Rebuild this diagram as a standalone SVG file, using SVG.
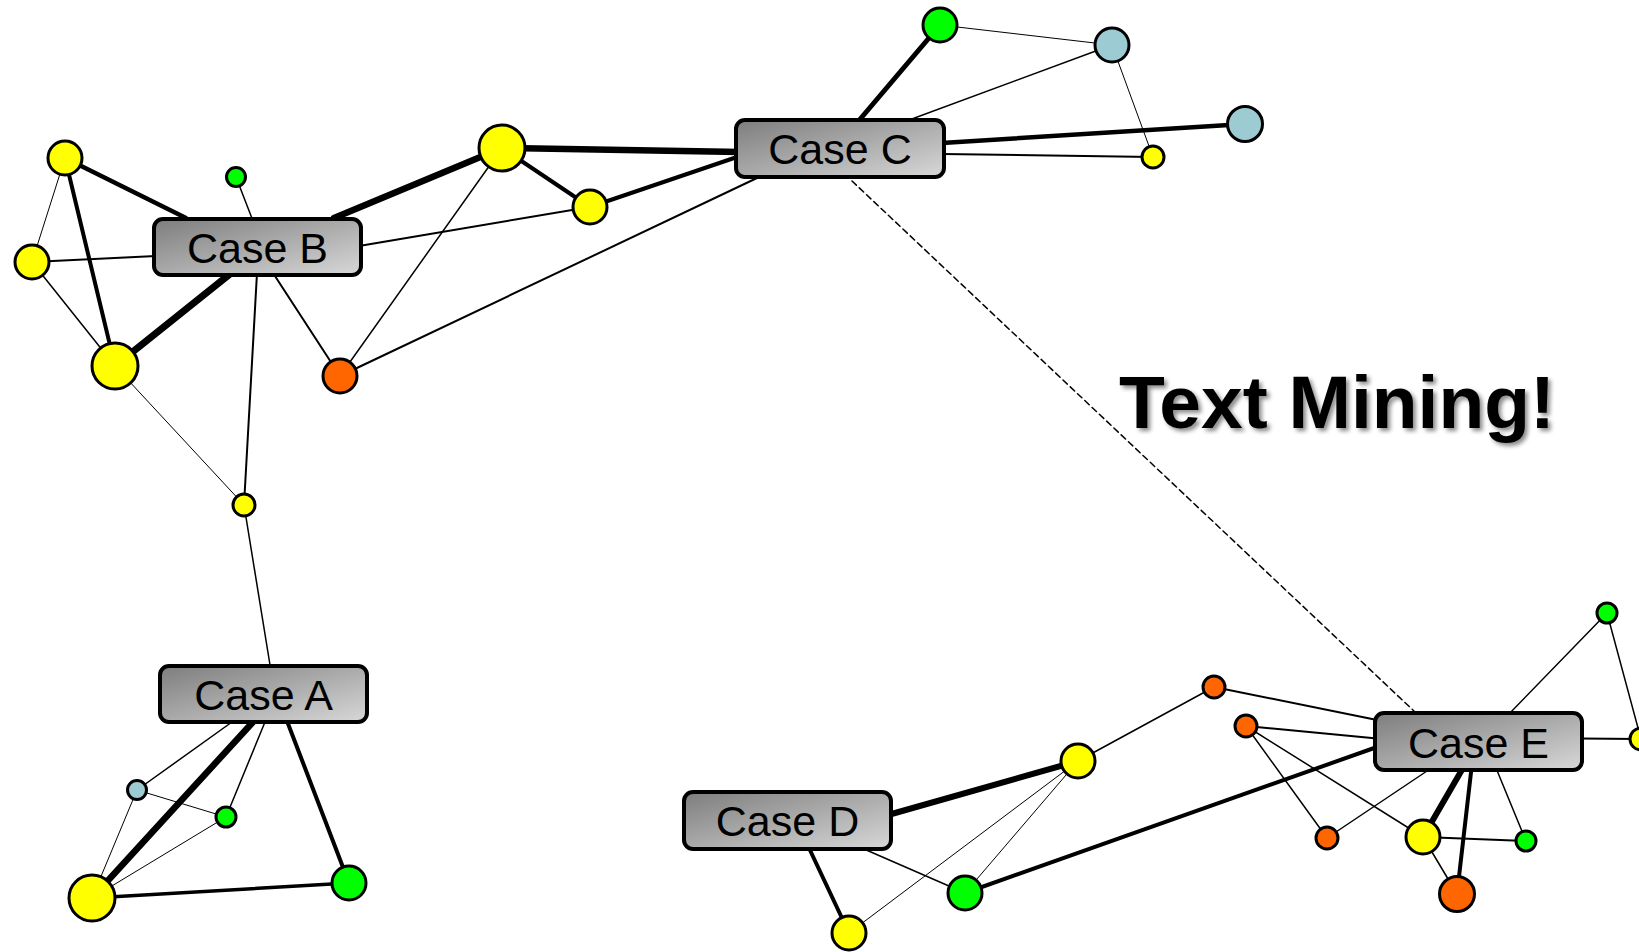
<svg xmlns="http://www.w3.org/2000/svg" width="1639" height="952" viewBox="0 0 1639 952">
<style>
.e{stroke:#000;fill:none;stroke-linecap:round}
.n{stroke:#000;stroke-width:3}
.y{fill:#ffff00}.g{fill:#00ff00}.b{fill:#9ccbd3}.o{fill:#ff6600}
.box{fill:url(#bg);stroke:#000;stroke-width:4}
.lbl{font-family:"Liberation Sans",Arial,sans-serif;font-size:43px;fill:#000;text-anchor:middle}
.title{font-family:"Liberation Sans",Arial,sans-serif;font-size:75px;font-weight:bold;fill:#000}
</style>
<defs>
<linearGradient id="bg" x1="0" y1="0" x2="1" y2="1">
<stop offset="0" stop-color="#7d7d7d"/>
<stop offset="1" stop-color="#d8d8d8"/>
</linearGradient>
<filter id="sh" x="-10%" y="-20%" width="120%" height="150%">
<feDropShadow dx="3" dy="3" stdDeviation="2" flood-color="#000" flood-opacity="0.45"/>
</filter>
</defs>
<rect width="1639" height="952" fill="#fff"/>
<g id="connectors">
<line class="e" x1="65" y1="158" x2="186" y2="218" stroke-width="4.5"/>
<line class="e" x1="236" y1="177" x2="253" y2="221" stroke-width="1.5"/>
<line class="e" x1="32" y1="262" x2="156" y2="256" stroke-width="2"/>
<line class="e" x1="115" y1="366" x2="230" y2="274" stroke-width="7"/>
<line class="e" x1="257" y1="273" x2="244" y2="505" stroke-width="2"/>
<line class="e" x1="340" y1="376" x2="273" y2="273" stroke-width="2"/>
<line class="e" x1="502" y1="148" x2="334" y2="218" stroke-width="6.5"/>
<line class="e" x1="590" y1="207" x2="359" y2="246" stroke-width="2"/>
<line class="e" x1="65" y1="158" x2="32" y2="262" stroke-width="1"/>
<line class="e" x1="65" y1="158" x2="115" y2="366" stroke-width="4"/>
<line class="e" x1="32" y1="262" x2="115" y2="366" stroke-width="1.5"/>
<line class="e" x1="115" y1="366" x2="244" y2="505" stroke-width="1"/>
<line class="e" x1="244" y1="505" x2="270.5" y2="668" stroke-width="1.5"/>
<line class="e" x1="340" y1="376" x2="502" y2="148" stroke-width="1.5"/>
<line class="e" x1="340" y1="376" x2="757" y2="178" stroke-width="2"/>
<line class="e" x1="502" y1="148" x2="740" y2="152" stroke-width="6.5"/>
<line class="e" x1="502" y1="148" x2="590" y2="207" stroke-width="4"/>
<line class="e" x1="590" y1="207" x2="740" y2="156" stroke-width="4"/>
<line class="e" x1="940" y1="25" x2="856" y2="124" stroke-width="5"/>
<line class="e" x1="1112" y1="45" x2="901" y2="123" stroke-width="1.5"/>
<line class="e" x1="940" y1="25" x2="1112" y2="45" stroke-width="1"/>
<line class="e" x1="1112" y1="45" x2="1153" y2="157" stroke-width="1"/>
<line class="e" x1="942" y1="143" x2="1245" y2="124" stroke-width="4.5"/>
<line class="e" x1="942" y1="154" x2="1153" y2="157" stroke-width="2"/>
<line class="e" x1="852" y1="181" x2="1415" y2="712" stroke-width="1.5" stroke-dasharray="6,4" stroke-linecap="butt"/>
<line class="e" x1="137" y1="790" x2="232" y2="722" stroke-width="1.5"/>
<line class="e" x1="92" y1="898" x2="253" y2="722" stroke-width="6.5"/>
<line class="e" x1="226" y1="817" x2="265" y2="722" stroke-width="1.5"/>
<line class="e" x1="349" y1="883" x2="287" y2="721" stroke-width="4"/>
<line class="e" x1="137" y1="790" x2="226" y2="817" stroke-width="1"/>
<line class="e" x1="137" y1="790" x2="92" y2="898" stroke-width="1"/>
<line class="e" x1="226" y1="817" x2="92" y2="898" stroke-width="1"/>
<line class="e" x1="92" y1="898" x2="349" y2="883" stroke-width="3.5"/>
<line class="e" x1="888" y1="815" x2="1078" y2="761" stroke-width="6"/>
<line class="e" x1="809" y1="848" x2="849" y2="933" stroke-width="4"/>
<line class="e" x1="864" y1="849" x2="965" y2="893" stroke-width="1.5"/>
<line class="e" x1="1078" y1="761" x2="965" y2="893" stroke-width="1"/>
<line class="e" x1="1078" y1="761" x2="849" y2="933" stroke-width="1"/>
<line class="e" x1="1078" y1="761" x2="1214" y2="687" stroke-width="1.5"/>
<line class="e" x1="965" y1="893" x2="1377" y2="747" stroke-width="4"/>
<line class="e" x1="1214" y1="687" x2="1377" y2="720" stroke-width="2"/>
<line class="e" x1="1246" y1="726" x2="1377" y2="738.5" stroke-width="2"/>
<line class="e" x1="1246" y1="726" x2="1327" y2="838" stroke-width="1.5"/>
<line class="e" x1="1246" y1="726" x2="1423" y2="837" stroke-width="1.5"/>
<line class="e" x1="1327" y1="838" x2="1430" y2="769" stroke-width="1.5"/>
<line class="e" x1="1423" y1="837" x2="1463" y2="768" stroke-width="6"/>
<line class="e" x1="1457" y1="894" x2="1471.5" y2="768" stroke-width="4"/>
<line class="e" x1="1526" y1="841" x2="1496" y2="768" stroke-width="1.5"/>
<line class="e" x1="1423" y1="837" x2="1526" y2="841" stroke-width="2"/>
<line class="e" x1="1423" y1="837" x2="1457" y2="894" stroke-width="1.5"/>
<line class="e" x1="1607" y1="613" x2="1508" y2="715" stroke-width="1.5"/>
<line class="e" x1="1607" y1="613" x2="1641" y2="739" stroke-width="1.5"/>
<line class="e" x1="1580" y1="738.5" x2="1641" y2="739" stroke-width="2"/>
</g>
<g id="b-y1"><circle class="n y" cx="65" cy="158" r="17"/></g>
<g id="b-g1"><circle class="n g" cx="236" cy="177" r="9.5"/></g>
<g id="b-y2"><circle class="n y" cx="32" cy="262" r="17"/></g>
<g id="b-y3"><circle class="n y" cx="115" cy="366" r="23"/></g>
<g id="b-o1"><circle class="n o" cx="340" cy="376" r="17"/></g>
<g id="b-y4"><circle class="n y" cx="244" cy="505" r="11"/></g>
<g id="b-y5"><circle class="n y" cx="502" cy="148" r="23"/></g>
<g id="b-y6"><circle class="n y" cx="590" cy="207" r="17"/></g>
<g id="c-g1"><circle class="n g" cx="940" cy="25" r="17"/></g>
<g id="c-b1"><circle class="n b" cx="1112" cy="45" r="17"/></g>
<g id="c-b2"><circle class="n b" cx="1245" cy="124" r="17.5"/></g>
<g id="c-y1"><circle class="n y" cx="1153" cy="157" r="11"/></g>
<g id="a-b1"><circle class="n b" cx="137" cy="790" r="9.5"/></g>
<g id="a-g1"><circle class="n g" cx="226" cy="817" r="10"/></g>
<g id="a-y1"><circle class="n y" cx="92" cy="898" r="23"/></g>
<g id="a-g2"><circle class="n g" cx="349" cy="883" r="17"/></g>
<g id="d-y1"><circle class="n y" cx="1078" cy="761" r="17"/></g>
<g id="d-g1"><circle class="n g" cx="965" cy="893" r="17"/></g>
<g id="d-y2"><circle class="n y" cx="849" cy="933" r="17"/></g>
<g id="e-o1"><circle class="n o" cx="1214" cy="687" r="11"/></g>
<g id="e-o2"><circle class="n o" cx="1246" cy="726" r="11"/></g>
<g id="e-o3"><circle class="n o" cx="1327" cy="838" r="11"/></g>
<g id="e-y1"><circle class="n y" cx="1423" cy="837" r="17"/></g>
<g id="e-g1"><circle class="n g" cx="1526" cy="841" r="10"/></g>
<g id="e-o4"><circle class="n o" cx="1457" cy="894" r="17.5"/></g>
<g id="e-g2"><circle class="n g" cx="1607" cy="613" r="10"/></g>
<g id="e-y2"><circle class="n y" cx="1641" cy="739" r="11"/></g>
<g id="case-a"><rect class="box" x="160" y="666" width="207" height="56" rx="9"/><text class="lbl" x="263.5" y="709.5">Case A</text></g>
<g id="case-b"><rect class="box" x="154" y="219" width="207" height="56" rx="9"/><text class="lbl" x="257.5" y="262.5">Case B</text></g>
<g id="case-c"><rect class="box" x="736" y="120" width="208" height="57" rx="9"/><text class="lbl" x="840" y="164">Case C</text></g>
<g id="case-d"><rect class="box" x="684" y="792" width="207" height="57" rx="9"/><text class="lbl" x="787.5" y="836">Case D</text></g>
<g id="case-e"><rect class="box" x="1375" y="713" width="207" height="57" rx="9"/><text class="lbl" x="1478.5" y="758">Case E</text></g>
<g id="title"><text class="title" x="1119" y="428" filter="url(#sh)">Text Mining!</text></g>
</svg>
